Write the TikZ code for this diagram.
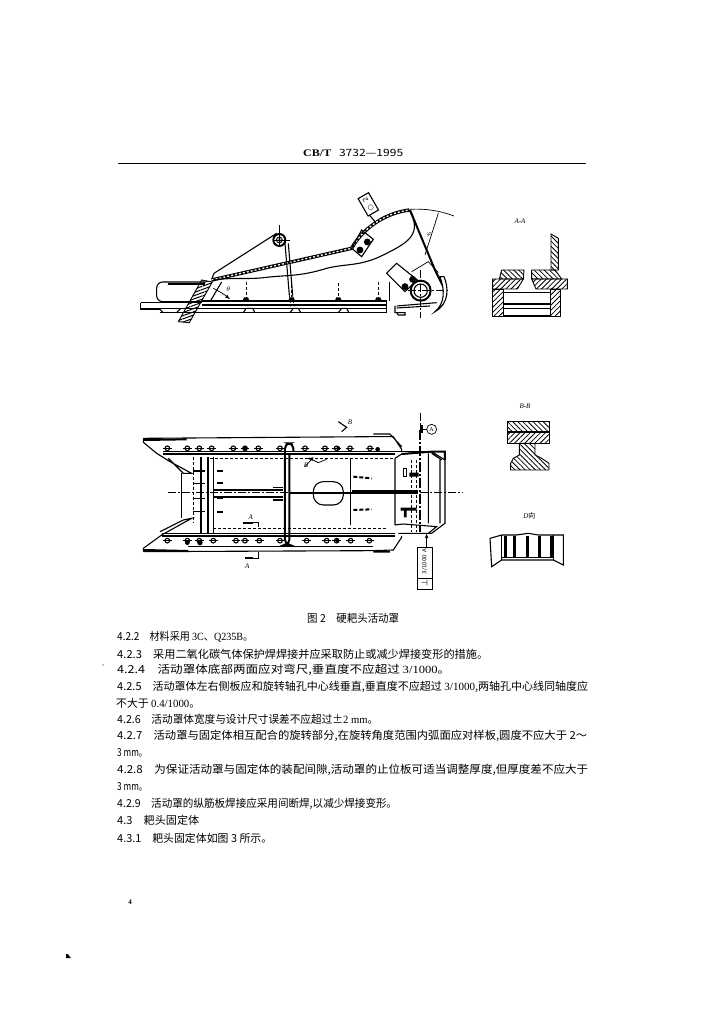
\documentclass[tikz,border=0pt]{standalone}
\usepackage{fontspec,graphicx}
\setmainfont{Liberation Serif}
\newfontfamily\cjk{Noto Sans CJK SC}
\newfontfamily\symb{DejaVu Sans}
\usetikzlibrary{positioning,patterns.meta,calc}
\tikzstyle{pline}=[-, line width=0.7pt]
\tikzstyle{mline}=[-, line width=1.1pt]
\tikzstyle{tline}=[-, line width=2pt]
\tikzstyle{cline}=[-, line width=0.6pt, dash pattern=on 8pt off 2pt on 2pt off 2pt]
\tikzstyle{hline}=[-, line width=0.7pt, dash pattern=on 3pt off 2pt]
\tikzstyle{beadline}=[draw=black, line width=3.4pt, postaction={draw=white, line width=1.3pt, dash pattern=on 2pt off 2pt}]
\tikzstyle{hatchne}=[draw, line width=0.9pt, pattern={Lines[angle=45,distance=3.6pt,line width=0.8pt]}]
\tikzstyle{hatchnw}=[draw, line width=0.9pt, pattern={Lines[angle=-45,distance=3.6pt,line width=0.8pt]}]
\tikzstyle{boltmark}=[draw, line width=0.8pt, fill=black!30]
\tikzstyle{bodyline}=[anchor=west, inner sep=0pt, font=\cjk\fontsize{11}{13}\selectfont]
\tikzstyle{viewlabel}=[inner sep=0pt, font=\itshape\fontsize{7}{8}\selectfont]
\newcommand{\fitline}[2]{\resizebox{#1pt}{\height}{#2}}
\begin{document}
\begin{tikzpicture}[x=1pt,y=-1pt]
\useasboundingbox (0,0) rectangle (724,1024);
\node (HEAD) [anchor=west, inner sep=0pt, font=\fontsize{10}{12}\selectfont] at (303,153) {\fitline{100}{\textbf{CB/T} {\cjk\, 3732—1995}}};
\draw[line width=1pt] (118,164) -- (586,164);
% side view
\begin{scope}[shift={(130,180)},x=0.3333pt,y=-0.3333pt]
\draw[pline] (32,368) -- (215,368) (32,385) -- (770,385) (32,368) -- (32,388) -- (90,388);
\draw[tline] (215,364) -- (770,364) (215,375) -- (770,375);
\draw[mline] (90,398) -- (770,398) (770,362) -- (770,398);
\draw[mline] (90,388) -- (100,398) (140,398) -- (152,385) (340,398) -- (348,385) -- (368,385) -- (375,398);
\draw[mline] (480,398) -- (490,385) -- (505,385) -- (512,398) (625,398) -- (635,385) -- (650,385) -- (657,398);
\draw[mline, rounded corners=6pt] (215,365) -- (80,365) -- (80,306) -- (225,306);
\draw[tline] (115,312) -- (225,312);
\draw[hatchnw, pattern={Lines[angle=20,distance=3pt,line width=1pt]}] (215,300) -- (247,306) -- (178,428) -- (145,425) -- cycle;
\draw[mline] (275,306) -- (240,365);
\draw[pline, -latex] (250,325) .. controls (270,335) and (285,345) .. (300,358);
\node (THETA) [viewlabel] at (295,328) {$\theta$};
\draw[hline] (348,305) -- (348,352) (485,300) -- (485,352) (625,310) -- (625,352) (745,305) -- (745,352);
\foreach \px in {348,485,625,745} {
  \fill (\px-10,362) -- (\px-6,352) -- (\px+6,352) -- (\px+10,362) -- cycle;
}
\draw[pline] (778,305) -- (778,364);
% cover plate
\draw[mline] (245,298) -- (252,280) -- (440,160);
\draw[beadline] (245,300) -- (665,205);
\draw[beadline] (665,205) .. controls (695,150) and (760,100) .. (838,90);
\draw[mline] (245,302) .. controls (300,290) and (350,300) .. (410,292) .. controls (470,285) and (510,290) .. (590,265) .. controls (650,250) and (690,260) .. (760,225) .. controls (830,190) and (880,165) .. (838,90);
\draw[mline] (465,190) -- (478,345) (475,190) -- (488,345);
\draw[hline] (478,345) -- (482,380) (488,345) -- (492,380);
\draw[tline] (448,180) circle (18);
\draw[boltmark] (448,180) circle (9);
\draw[pline] (430,180) -- (480,180) (448,135) -- (448,200);
\draw[mline] (665,205) -- (695,150) -- (730,178) -- (695,230) -- cycle;
\draw[boltmark, fill=black] (712,186) circle (9) (690,210) circle (9);
% right end
\draw[tline] (840,90) -- (915,270) -- (945,330);
\draw[pline] (840,88) .. controls (885,85) and (930,92) .. (972,108);
\draw[pline] (925,100) -- (885,225);
\node (PHI) [viewlabel] at (897,165) {$\varphi$};
\draw[pline] (845,275) -- (895,245) -- (925,278);
\draw[mline] (770,280) -- (800,250) -- (862,300) -- (825,335) -- cycle;
\draw[boltmark, fill=black] (848,298) circle (9) (825,320) circle (9);
\draw[tline] (872,332) circle (30);
\draw[mline] (872,332) circle (20);
\draw[cline] (872,270) -- (872,415) (835,332) -- (955,332);
\draw[mline, fill=white] (930,290) .. controls (945,330) and (945,370) .. (915,395) .. controls (960,370) and (955,320) .. (942,290) -- cycle;
\draw[mline] (800,378) -- (920,368) (800,384) -- (900,378);
\draw[mline] (795,378) -- (795,398) -- (825,398) -- (825,405) -- (805,405) -- (800,398);
\draw[mline] (718,105) -- (735,125);
\node (ROUND) [draw, mline, fill=white, rotate=120, inner sep=1pt, minimum width=20pt, minimum height=12pt, font=\symb\fontsize{7}{8}\selectfont] at (715,73) {○ \ 2};
\end{scope}
% plan view
\begin{scope}[shift={(130,410)},x=0.3333pt,y=-0.3333pt]
\draw[mline] (40,85) -- (730,80) -- (790,80) -- (815,118) -- (815,125) (730,72) -- (780,72) -- (815,110);
\draw[mline] (40,85) -- (40,97) -- (80,130) -- (120,155) -- (185,190) -- (160,190) -- (115,145);
\draw[tline] (40,90) -- (170,88);
\draw[mline] (100,125) -- (905,125) (100,132) -- (795,132);
\draw[mline] (40,425) -- (730,422) -- (790,420) -- (815,382) -- (815,378);
\draw[mline] (40,425) -- (40,415) -- (95,375) -- (185,325) -- (160,330) -- (90,365);
\draw[tline] (40,420) -- (175,423) (730,425) -- (780,425);
\draw[mline] (95,370) -- (795,370) (95,378) -- (795,378) (175,410) -- (730,410);
\draw[hline, line width=1pt] (240,145) -- (790,145) (250,355) -- (770,355);
\draw[pline] (155,190) -- (155,325);
\draw[hline] (190,140) -- (190,340);
\draw[mline] (213,140) -- (213,370) (250,140) -- (250,370);
\draw[tline] (235,140) -- (235,370);
\draw[tline, rounded corners=5pt] (465,370) -- (465,100) -- (490,100) -- (490,125);
\draw[tline, rounded corners=5pt] (478,130) -- (478,405) -- (465,405) -- (465,370);
\foreach \py in {183,220,265,305} {
  \draw[tline] (262,\py) -- (278,\py);
  \draw[mline] (190,\py) -- (225,\py);
}
\foreach \px in {112,172,208,245,310,345,385,450,525,585,620,660,720} {
  \draw[mline] (\px,115) circle (7);
  \draw[pline] (\px-13,115) -- (\px+13,115);
}
\foreach \px in {112,172,208,250,318,345,388,450,530,590,620,662,718} {
  \draw[mline] (\px,392) circle (7);
  \draw[pline] (\px-13,392) -- (\px+13,392);
}
\fill (172,398) circle (7) (210,398) circle (8) (345,115) circle (6) (625,115) circle (6) (743,118) circle (7) (622,392) circle (6);
\draw[cline] (115,247) -- (1000,247);
\draw[tline] (250,240) -- (460,240) (250,262) -- (460,262);
\draw[mline] (430,232) -- (460,232) (430,270) -- (460,270);
\draw[tline] (480,250) -- (865,250);
\draw[mline] (665,243) -- (865,243);
\draw[mline, rounded corners=10pt] (550,215) rectangle (640,285);
\draw[mline] (662,145) -- (662,345);
\draw[mline] (795,145) -- (795,345) (795,145) -- (815,132) -- (905,125) -- (945,150) -- (945,340) -- (905,370) -- (805,370) (795,345) -- (820,342) -- (920,350) -- (895,370) (930,150) -- (930,340) (895,130) -- (895,340) (905,130) -- (935,150);
\draw[tline] (815,132) -- (905,125) (905,125) -- (945,125) -- (945,150);
\draw[hline] (845,150) -- (845,365) (860,150) -- (860,365);
\draw[mline] (820,175) rectangle (830,200);
\fill (838,188) rectangle (866,200) (812,293) rectangle (860,302) (822,302) rectangle (830,322);
\draw[cline] (870,8) -- (870,60);
\draw[tline, dash pattern=on 10pt off 2pt on 2pt off 2pt] (870,60) -- (870,365);
\draw[line width=2.5pt] (875,46) -- (875,70);
\draw[pline] (875,58) -- (890,58);
\node (DATUMA) [draw, circle, pline, inner sep=0pt, minimum size=10pt, font=\fontsize{6}{7}\selectfont] at (905,58) {A};
\draw[pline, -latex] (890,412) -- (890,370);
\node (TOLBAR) [draw, mline, fill=white, anchor=north, inner sep=0pt, minimum width=15pt, minimum height=42pt] at (884,410) {};
\draw[mline] (862,505) -- (905,505);
\node (TOLVAL) [rotate=90, inner sep=0pt, font=\symb\fontsize{5.5}{7}\selectfont] at (884,455) {3/1000 A};
\node (TOLSYM) [rotate=90, inner sep=0pt, font=\symb\fontsize{8}{8}\selectfont] at (884,520) {⊥};
\draw[mline] (625,35) -- (650,52) -- (635,65);
\node (SECTB) [viewlabel] at (660,38) {B};
\draw[pline] (525,170) -- (545,148) -- (565,158) -- (590,148);
\fill (530,145) -- (550,142) -- (548,152) -- cycle;
\node (SECTBB) [viewlabel] at (528,165) {B};
\draw[tline, dash pattern=on 4pt off 2pt] (670,200) -- (725,205) (670,300) -- (725,298);
\draw[tline] (340,338) -- (368,338);
\draw[pline] (368,338) -- (385,338) -- (385,350);
\node (SECTA) [viewlabel] at (362,323) {A};
\draw[tline] (345,445) -- (368,445);
\draw[pline] (368,445) -- (385,445) -- (385,425);
\node (SECTAB) [viewlabel] at (352,470) {A};
\end{scope}
% section A-A
\begin{scope}[shift={(480,210)},x=0.3333pt,y=-0.3333pt]
\node (LBLAA) [viewlabel] at (120,33) {A-A};
\draw[hatchnw] (213,72) -- (235,85) -- (235,180) -- (213,180) -- cycle;
\draw[hatchnw] (58,207) -- (65,180) -- (132,180) -- (130,207) -- cycle;
\draw[hatchnw] (155,180) -- (225,180) -- (245,207) -- (155,207) -- cycle;
\draw[hatchne] (38,207) -- (130,207) -- (112,237) -- (38,237) -- cycle;
\draw[hatchne] (155,207) -- (262,207) -- (262,237) -- (168,237) -- cycle;
\draw[hatchne] (38,237) rectangle (70,318);
\draw[hatchne] (210,237) rectangle (240,318);
\draw[mline] (70,247) -- (210,247) (70,318) -- (210,318) (70,282) -- (210,282) (70,295) -- (210,295);
\end{scope}
% section B-B and view D
\begin{scope}[shift={(480,395)},x=0.3333pt,y=-0.3333pt]
\node (LBLBB) [viewlabel] at (135,33) {B-B};
\draw[hatchnw] (82,78) rectangle (207,110);
\draw[hatchne] (82,113) rectangle (207,145);
\draw[hatchnw] (118,145) -- (165,145) -- (165,180) -- (185,190) -- (207,205) -- (207,225) -- (92,225) -- (92,205) -- (100,190) -- (118,180) -- cycle;
\node (LBLD) [viewlabel] at (148,363) {D{\cjk\upshape 向}};
\draw[mline] (30,430) -- (65,420) -- (110,420) -- (145,415) -- (175,420) -- (215,420) -- (250,420) -- (250,510) -- (220,495) -- (65,495) -- (35,515) -- (30,430);
\draw[mline] (65,487) -- (220,487) (65,420) -- (65,495) (220,420) -- (220,495);
\foreach \px in {72,100,138,175,210} {
  \draw[pline] (\px,422) -- (\px,487);
  \draw[tline] (\px+6,422) -- (\px+6,487);
}
\end{scope}
% text
\node (CAPTION) [bodyline] at (307,618) {\fitline{92}{图 2\quad 硬耙头活动罩}};
\node (L422) [bodyline] at (117,637) {\fitline{136}{4.2.2\quad 材料采用 {\rmfamily 3C}、{\rmfamily Q235B}。}};
\node (L423) [bodyline] at (117,654) {\fitline{371}{4.2.3\quad 采用二氧化碳气体保护焊焊接并应采取防止或减少焊接变形的措施。}};
\node (L424) [bodyline] at (117,670) {\fitline{333}{4.2.4\quad 活动罩体底部两面应对弯尺,垂直度不应超过 {\rmfamily 3/1000}。}};
\node (L425) [bodyline] at (117,687) {\fitline{471}{4.2.5\quad 活动罩体左右侧板应和旋转轴孔中心线垂直,垂直度不应超过 {\rmfamily 3/1000},两轴孔中心线同轴度应}};
\node (L425B) [bodyline] at (116,703) {\fitline{84}{不大于 {\rmfamily 0.4/1000}。}};
\node (L426) [bodyline] at (117,719) {\fitline{261}{4.2.6\quad 活动罩体宽度与设计尺寸误差不应超过±{\rmfamily 2 mm}。}};
\node (L427) [bodyline] at (117,736) {\fitline{470}{4.2.7\quad 活动罩与固定体相互配合的旋转部分,在旋转角度范围内弧面应对样板,圆度不应大于 2～}};
\node (L427B) [bodyline] at (117,753) {\fitline{30}{3 mm。}};
\node (L428) [bodyline] at (117,770) {\fitline{471}{4.2.8\quad 为保证活动罩与固定体的装配间隙,活动罩的止位板可适当调整厚度,但厚度差不应大于}};
\node (L428B) [bodyline] at (117,787) {\fitline{30}{3 mm。}};
\node (L429) [bodyline] at (117,804) {\fitline{280}{4.2.9\quad 活动罩的纵筋板焊接应采用间断焊,以减少焊接变形。}};
\node (L43) [bodyline] at (117,820) {\fitline{82}{4.3\quad 耙头固定体}};
\node (L431) [bodyline] at (117,838) {\fitline{155}{4.3.1\quad 耙头固定体如图 3 所示。}};
\node (PAGENO) [anchor=center, inner sep=0pt, font=\bfseries\fontsize{7}{8}\selectfont] at (130,902) {4};
\fill (66,954) -- (68,954) -- (70,957) -- (71,958) -- (66,958) -- cycle;
\fill (103,665) circle (0.7);
\end{tikzpicture}
\end{document}
